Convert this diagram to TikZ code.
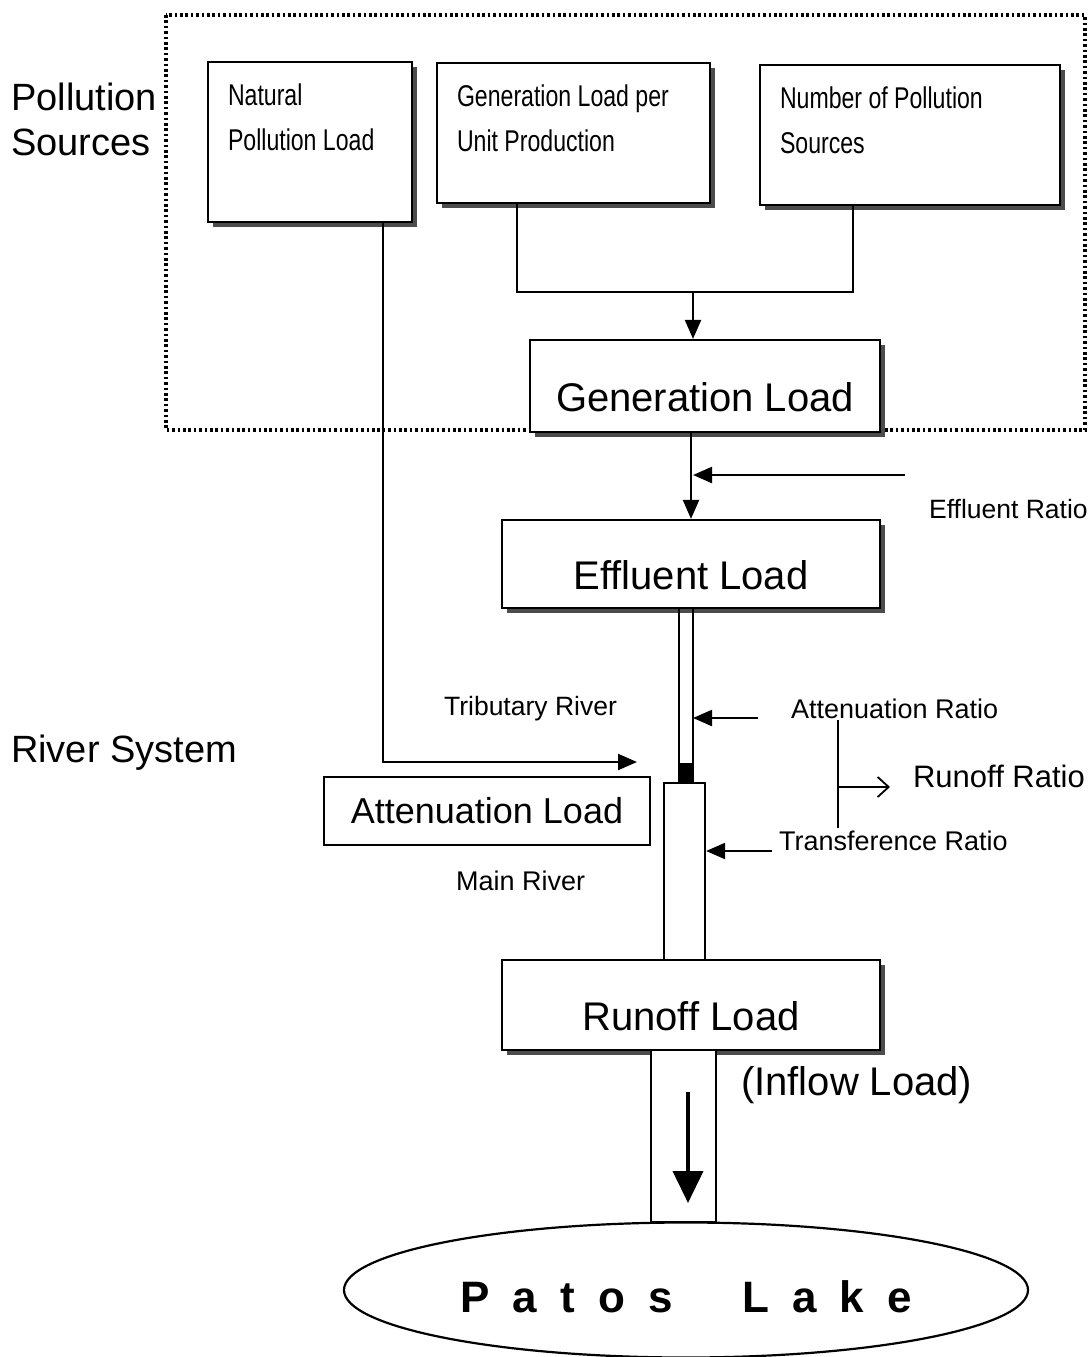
\documentclass[tikz,border=0pt]{standalone}
\usepackage{fontspec}
\setmainfont{Liberation Sans}
\newfontfamily\narrowfont[FakeStretch=0.77]{Liberation Sans}
\usetikzlibrary{arrows.meta,shapes.geometric,shadows}
\newcommand\fsz[1]{\fontsize{#1}{#1}\selectfont}
\newcommand\boxtxt[3]{\parbox[c][#2][t]{#1}{\narrowfont\fontsize{30}{45}\selectfont\leftskip=20pt\rule{0pt}{43pt}#3}}
\begin{document}
\begin{tikzpicture}[x=1pt,y=-1pt,
  line width=2.2pt,
  arr/.style={-{Triangle[length=19pt,width=16pt]}},
  sbox/.style={draw, fill=white, inner sep=0pt,
    general shadow={fill=black!70, shadow xshift=5pt, shadow yshift=-5pt}},
  bigbox/.style={sbox, font=\fsz{40}, text height=50pt, text depth=0pt},
  plainbox/.style={draw, fill=white, inner sep=0pt},
  lbl/.style={anchor=base west, inner sep=0pt},
]
\useasboundingbox (0,0) rectangle (1092,1357);

% dotted frame of the pollution sources
\draw[line width=3.2pt, dash pattern=on 2.6pt off 2.8pt] (166,15) rectangle (1085,430);

% side labels
\node[lbl, font=\fsz{38}] (pol) at (10,110) {Pollution};
\node[lbl, font=\fsz{38}] (src) at (10,155) {Sources};
\node[lbl, font=\fsz{38}] (riv) at (10,762) {River System};

% top boxes
\node[sbox] (nat) at (310,142) {\boxtxt{204pt}{160pt}{Natural\\Pollution Load}};
\node[sbox] (gpu) at (573.5,133) {\boxtxt{273pt}{140pt}{Generation Load per\\Unit Production}};
\node[sbox] (nps) at (910,135) {\boxtxt{300pt}{140pt}{Number of Pollution\\Sources}};

% main load boxes
\node[bigbox, minimum width=350pt, minimum height=92pt] (gen) at (705,386) {Generation Load};
\node[bigbox, minimum width=378pt, minimum height=88pt] (eff) at (691,564) {Effluent Load};
\node[bigbox, minimum width=378pt, minimum height=90pt] (run) at (691,1005) {Runoff Load};
\node[plainbox, font=\fsz{36}, minimum width=326pt, minimum height=68pt] (att) at (487,811) {Attenuation Load};

% rivers
\draw (679,608) -- (679,783);
\draw (693,608) -- (693,783);
\fill (679,763) rectangle (693,784);
\node[plainbox, minimum width=41pt, minimum height=177pt] (main) at (684.5,871.5) {};
\node[plainbox, line width=2.6pt, minimum width=65pt, minimum height=172pt] (lowch) at (683.5,1136) {};

% lake
\node[draw, ellipse, minimum width=684pt, minimum height=135pt, inner sep=0pt,
      text height=44pt, text depth=0pt] (lake) at (686,1290)
  {\fsz{44}\bfseries\makebox[452pt][s]{P\hfill a\hfill t\hfill o\hfill s\hfill\hfill\hfill L\hfill a\hfill k\hfill e}};

% connectors from the top boxes
\coordinate (j) at (693,292);
\draw ([xshift=-56.5pt]gpu.south) -- ([xshift=-56.5pt]gpu.south |- j) -- ([xshift=-57pt]nps.south |- j) -- ([xshift=-57pt]nps.south);
\draw[arr] (j) -- (j |- gen.north);
\draw[arr] (eff.north |- gen.south) -- (eff.north);

% effluent ratio
\coordinate (er) at (905,475);
\draw[arr] (er) -- (693,475);
\node[lbl, font=\fsz{26.5}] (ert) at (928,518) {Effluent Ratio};

% tributary river
\coordinate (tr1) at (383,762);
\coordinate (tr2) at (637,762);
\draw[arr] ([xshift=73pt]nat.south) -- (tr1) -- (tr2);
\node[lbl, font=\fsz{26.5}] (trt) at (443,715) {Tributary River};
\node[lbl, font=\fsz{27}] (mrt) at (455,890) {Main River};

% ratios
\coordinate (ar) at (758,718);
\draw[arr] (ar) -- (693,718);
\node[lbl, font=\fsz{27}] (art) at (790,718) {Attenuation Ratio};
\coordinate (tra) at (772,851);
\draw[arr] (tra) -- (main.east |- tra);
\node[lbl, font=\fsz{27}] (trat) at (778,850) {Transference Ratio};
\coordinate (v1) at (838,720);
\coordinate (v2) at (838,828);
\coordinate (vm) at (838,787);
\coordinate (vr) at (890,787);
\draw (v1) -- (v2);
\draw[line width=1.8pt, -{Straight Barb[length=11pt,width=20pt,line width=1.8pt]}] (vm) -- (vr);
\node[lbl, font=\fsz{31}] (rrt) at (912,787) {Runoff Ratio};

% inflow
\node[lbl, font=\fsz{40}] (inf) at (740,1095) {(Inflow Load)};
\coordinate (ia) at (688,1092);
\coordinate (ib) at (688,1203);
\draw[line width=4pt, -{Triangle[length=32pt,width=30pt]}] (ia) -- (ib);
\end{tikzpicture}
\end{document}
